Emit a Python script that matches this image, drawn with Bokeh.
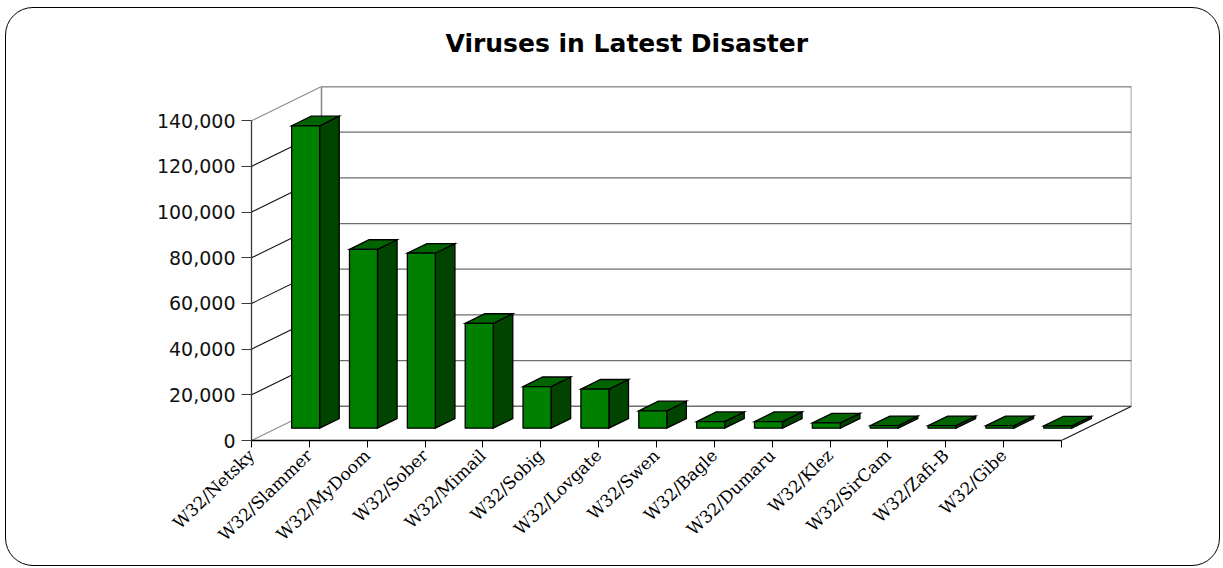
from math import radians

import numpy as np
from bokeh.embed import file_html
from bokeh.models import FixedTicker, InlineStyleSheet, NumeralTickFormatter, Range1d
from bokeh.plotting import figure
from bokeh.resources import INLINE

# ---- data -------------------------------------------------------------
viruses = [
    "W32/Netsky", "W32/Slammer", "W32/MyDoom", "W32/Sober", "W32/Mimail",
    "W32/Sobig", "W32/Lovgate", "W32/Swen", "W32/Bagle", "W32/Dumaru",
    "W32/Klez", "W32/SirCam", "W32/Zafi-B", "W32/Gibe",
]
counts = [132400, 78300, 76600, 45900, 18200, 17100, 7600,
          2900, 2900, 2300, 1100, 1100, 1100, 1000]
value_ticks = [0, 20000, 40000, 60000, 80000, 100000, 120000, 140000]
title = "Viruses in Latest Disaster"

# ---- oblique 3-D box geometry (depth expressed in data units) ---------
DEPTH_X = 1.21          # categories
DEPTH_Y = 15000         # value units
F0, F1 = 0.36, 0.64     # bar front / back position inside the depth
BAR_W = 0.484           # bar width in categories
VMAX = value_ticks[-1]

n = len(viruses)
k = np.arange(n)
vals = np.array(counts, dtype=float)

p = figure(
    width=1223, height=568,
    x_range=Range1d(0, n + DEPTH_X), y_range=Range1d(0, VMAX + DEPTH_Y),
    output_backend="svg", toolbar_location=None,
    min_border_left=251, min_border_right=92,
    min_border_top=86, min_border_bottom=128,
)
p.outline_line_color = None
p.background_fill_color = "white"
p.border_fill_color = "white"
p.xgrid.visible = False
p.ygrid.visible = False

# rounded frame drawn around the whole chart area
p.stylesheets = [InlineStyleSheet(css="""
:host { position: relative; }
:host::after {
  content: ""; position: absolute; pointer-events: none; z-index: 10;
  left: 5px; top: 7px; right: 3px; bottom: 2px;
  border: 1.5px solid #000; border-radius: 28px;
}
""")]

# ---- walls ------------------------------------------------------------
GRID = "#6e6e6e"
EDGE = "#8c8c8c"
# back wall outline
p.line([DEPTH_X, DEPTH_X, n + DEPTH_X, n + DEPTH_X],
       [DEPTH_Y, VMAX + DEPTH_Y, VMAX + DEPTH_Y, DEPTH_Y],
       line_color=EDGE, line_width=1.6)
# back wall gridlines
p.segment(x0=[DEPTH_X] * len(value_ticks), x1=[n + DEPTH_X] * len(value_ticks),
          y0=[v + DEPTH_Y for v in value_ticks], y1=[v + DEPTH_Y for v in value_ticks],
          line_color=GRID, line_width=1.3)
# side wall lines running from the value axis into the depth
side_cols = [EDGE] + ["#111111"] * (len(value_ticks) - 2) + [EDGE]
p.segment(x0=[0] * len(value_ticks), x1=[DEPTH_X] * len(value_ticks),
          y0=value_ticks, y1=[v + DEPTH_Y for v in value_ticks],
          line_color=side_cols, line_width=1.1)
# right floor edge
p.segment(x0=[n], x1=[n + DEPTH_X], y0=[0], y1=[DEPTH_Y],
          line_color="#111111", line_width=1.1)

# ---- 3-D bars ---------------------------------------------------------
xl = k + (1 - BAR_W) / 2 + F0 * DEPTH_X
xr = xl + BAR_W
yb = np.full(n, F0 * DEPTH_Y)
yt = yb + vals
ddx = (F1 - F0) * DEPTH_X
ddy = (F1 - F0) * DEPTH_Y

side_xs = [[r, r + ddx, r + ddx, r] for r in xr]
side_ys = [[b, b + ddy, t + ddy, t] for b, t in zip(yb, yt)]
top_xs = [[l, r, r + ddx, l + ddx] for l, r in zip(xl, xr)]
top_ys = [[t, t, t + ddy, t + ddy] for t in yt]

p.patches(side_xs, side_ys, fill_color="#004400", line_color="black",
          line_width=1.3, line_join="miter")
p.patches(top_xs, top_ys, fill_color="#006400", line_color="black",
          line_width=1.3, line_join="miter")
p.quad(left=xl, right=xr, bottom=yb, top=yt, fill_color="#008000",
       line_color="black", line_width=1.3)

# ---- axes -------------------------------------------------------------
yax = p.yaxis[0]
yax.ticker = FixedTicker(ticks=value_ticks)
yax.formatter = NumeralTickFormatter(format="0,0")
yax.bounds = (0, VMAX)
yax.axis_line_color = "#3a3a3a"
yax.axis_line_width = 1.3
yax.major_tick_line_color = "#3a3a3a"
yax.major_tick_out = 10
yax.major_tick_in = 0
yax.minor_tick_line_color = None
yax.major_label_standoff = 6
yax.major_label_text_font = "DejaVu Sans"
yax.major_label_text_font_size = "19px"
yax.major_label_text_color = "#111111"

xax = p.xaxis[0]
xax.ticker = FixedTicker(ticks=list(range(n + 1)))
overrides = {i: name for i, name in enumerate(viruses)}
overrides[n] = ""
xax.major_label_overrides = overrides
xax.bounds = (0, n)
xax.axis_line_color = "black"
xax.axis_line_width = 1.5
xax.major_tick_line_color = "black"
xax.major_tick_out = 7
xax.major_tick_in = 0
xax.minor_tick_line_color = None
xax.major_label_orientation = radians(44)
xax.major_label_standoff = 5
xax.major_label_text_font = "DejaVu Serif"
xax.major_label_text_font_size = "17px"
xax.major_label_text_color = "black"

# ---- title ------------------------------------------------------------
p.title.text = title
p.title.align = "left"
p.title.offset = 194
p.title.vertical_align = "top"
p.title.standoff = 54
p.title.text_font = "DejaVu Sans"
p.title.text_font_style = "bold"
p.title.text_font_size = "25px"
p.title.text_color = "black"

open("out.html", "w").write(file_html(p, INLINE))
